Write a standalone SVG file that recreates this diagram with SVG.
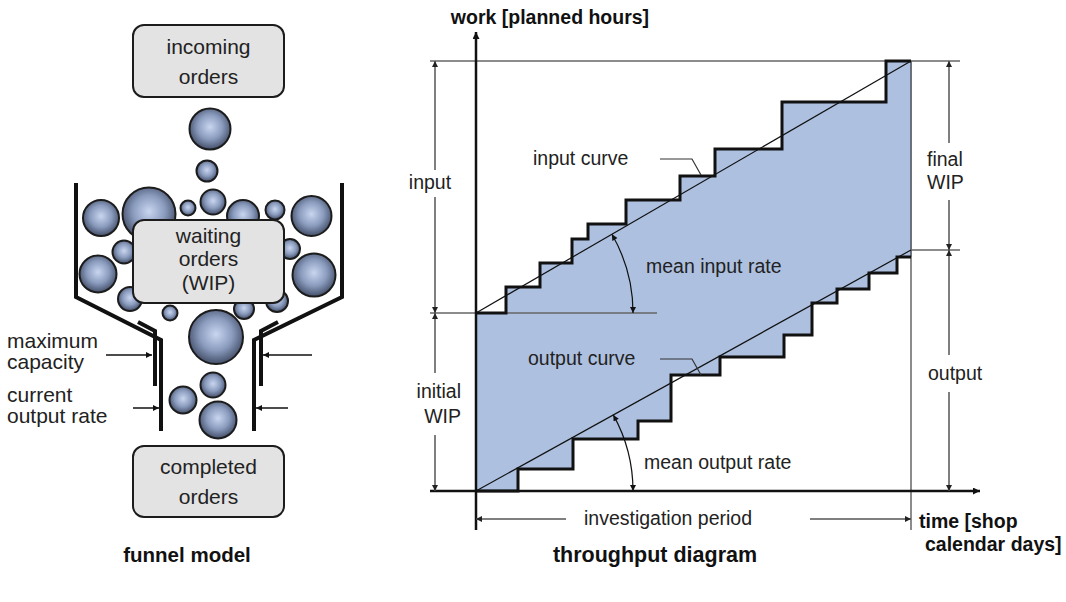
<svg xmlns="http://www.w3.org/2000/svg" width="1066" height="602" viewBox="0 0 1066 602">
  <defs>
    <radialGradient id="ballGrad" cx="50%" cy="45%" r="55%">
      <stop offset="0%" stop-color="#c9d6f0"/>
      <stop offset="55%" stop-color="#8a9bbd"/>
      <stop offset="100%" stop-color="#434f69"/>
    </radialGradient>
    <marker id="arrowBlack" viewBox="0 0 10 10" refX="10" refY="5" markerWidth="11" markerHeight="7" markerUnits="userSpaceOnUse" orient="auto-start-reverse">
      <path d="M0 0 L10 5 L0 10 Z" fill="#111"/>
    </marker>
    <marker id="arrowGray" viewBox="0 0 10 10" refX="10" refY="5" markerWidth="12" markerHeight="6" markerUnits="userSpaceOnUse" orient="auto-start-reverse">
      <path d="M0 0 L10 5 L0 10 Z" fill="#222"/>
    </marker>
    <marker id="arrowSmall" viewBox="0 0 10 10" refX="10" refY="5" markerWidth="9" markerHeight="6" markerUnits="userSpaceOnUse" orient="auto-start-reverse">
      <path d="M0 0 L10 5 L0 10 Z" fill="#111"/>
    </marker>
  </defs>
  <style>
    .ball { fill: url(#ballGrad); stroke: #1c1c1c; stroke-width: 2; }
    .box { fill: #e3e3e3; stroke: #1c1c1c; stroke-width: 2; }
    .wall { fill: none; stroke: #111; stroke-width: 4; stroke-linejoin: miter; }
    .ftxt { font-family: "Liberation Sans", Arial, sans-serif; font-size: 21px; fill: #222; }
    .ctxt { font-family: "Liberation Sans", Arial, sans-serif; font-size: 19.5px; fill: #222; }
    .btxt { font-family: "Liberation Sans", Arial, sans-serif; font-size: 19.5px; font-weight: bold; fill: #111; }
    .title { font-family: "Liberation Sans", Arial, sans-serif; font-size: 20.5px; font-weight: bold; fill: #111; }
    .mid { text-anchor: middle; }
    .end { text-anchor: end; }
    .ref { fill: none; stroke: #666; stroke-width: 1.5; }
    .dimline { fill: none; stroke: #555; stroke-width: 1.5; }
    .stairs { fill: none; stroke: #111; stroke-width: 3; stroke-linejoin: miter; }
    .mean { fill: none; stroke: #111; stroke-width: 1.2; }
    .leader { fill: none; stroke: #333; stroke-width: 1.2; }
    .pointer { fill: none; stroke: #111; stroke-width: 1.5; marker-end: url(#arrowSmall); }
    .axis { fill: none; stroke: #111; stroke-width: 2.5; marker-end: url(#arrowBlack); }
  </style>

  <!-- ===== funnel model ===== -->
  <g id="balls-falling">
    <circle class="ball" cx="210" cy="129" r="20.5"/>
    <circle class="ball" cx="207" cy="171" r="10.5"/>
  </g>
  <g id="balls-waiting">
    <circle class="ball" cx="243" cy="216" r="16"/>
    <circle class="ball" cx="101" cy="218" r="18"/>
    <circle class="ball" cx="149" cy="214" r="26.5"/>
    <circle class="ball" cx="188" cy="208" r="7.5"/>
    <circle class="ball" cx="213" cy="202" r="12.5"/>
    <circle class="ball" cx="275" cy="210" r="9.5"/>
    <circle class="ball" cx="311.5" cy="216" r="20"/>
    <circle class="ball" cx="124" cy="252" r="11.5"/>
    <circle class="ball" cx="98" cy="274" r="18.5"/>
    <circle class="ball" cx="290" cy="249" r="10"/>
    <circle class="ball" cx="314" cy="275" r="21.5"/>
    <circle class="ball" cx="130" cy="299" r="12"/>
    <circle class="ball" cx="170" cy="313" r="7.5"/>
    <circle class="ball" cx="244" cy="309" r="10"/>
    <circle class="ball" cx="277" cy="301" r="11"/>
    <circle class="ball" cx="216" cy="337" r="27"/>
  </g>
  <g id="balls-completed">
    <circle class="ball" cx="213" cy="385" r="12.5"/>
    <circle class="ball" cx="183" cy="400" r="13.5"/>
    <circle class="ball" cx="218" cy="420" r="18.5"/>
  </g>

  <g id="incoming-orders">
    <rect class="box" x="133" y="25" width="151" height="72" rx="11"/>
    <text class="ftxt mid" x="208.5" y="54">incoming</text>
    <text class="ftxt mid" x="208.5" y="84">orders</text>
  </g>
  <g id="waiting-orders">
    <rect class="box" x="133" y="220" width="151" height="83" rx="11"/>
    <text class="ftxt mid" x="208.5" y="243">waiting</text>
    <text class="ftxt mid" x="208.5" y="266">orders</text>
    <text class="ftxt mid" x="208.5" y="290">(WIP)</text>
  </g>
  <g id="completed-orders">
    <rect class="box" x="133" y="446" width="151" height="71" rx="11"/>
    <text class="ftxt mid" x="208.5" y="474">completed</text>
    <text class="ftxt mid" x="208.5" y="504">orders</text>
  </g>

  <g id="funnel-walls">
    <path class="wall" d="M76 183 V297 L161 340 V431"/>
    <path class="wall" d="M342 183 V297 L254 340 V431"/>
    <path class="wall" d="M138 322 L155 331 V386"/>
    <path class="wall" d="M278 322 L261 331 V386"/>
  </g>

  <g id="funnel-labels">
    <text class="ftxt" x="7" y="348">maximum</text>
    <text class="ftxt" x="7" y="369">capacity</text>
    <text class="ftxt" x="7" y="402">current</text>
    <text class="ftxt" x="7" y="423">output rate</text>
    <path class="pointer" d="M106 355 H152"/>
    <path class="pointer" d="M133 408 H159"/>
    <path class="pointer" d="M312 355 H263"/>
    <path class="pointer" d="M288 408 H256"/>
  </g>
  <text class="title mid" x="187" y="562">funnel model</text>

  <!-- ===== throughput diagram ===== -->
  <g id="wip-area">
    <polygon fill="#adc0e0" points="476,313 506,313 506,287 540,287 540,263 572,263 572,239 588,239 588,224 626,224 626,200 680,200 680,176 715,176 715,149 782,149 782,102 886,102 886,61 911,61 911,257 897,257 897,273 869,273 869,289 837,289 837,303 812,303 812,335 784,335 784,357 720,357 720,375 671,375 671,421 638,421 638,439 573,439 573,469 518,469 518,491 476,491"/>
    <line x1="911" y1="61" x2="911" y2="257" stroke="#5a78a8" stroke-width="1.5"/>
  </g>

  <g id="reference-lines">
    <path class="ref" d="M430 61 H960"/>
    <path class="ref" d="M430 313 H657"/>
    <path class="ref" d="M911 250 H960"/>
    <path class="ref" d="M911 61 V530"/>
  </g>

  <g id="connectors">
    <!-- mean rate lines -->
    <path class="mean" d="M476 313 L911 61"/>
    <path class="mean" d="M476 491 L911 250"/>
    <!-- input and output step curves -->
    <path class="stairs" d="M476 313 H506 V287 H540 V263 H572 V239 H588 V224 H626 V200 H680 V176 H715 V149 H782 V102 H886 V61 H911"/>
    <path class="stairs" d="M476 491 H518 V469 H573 V439 H638 V421 H671 V375 H720 V357 H784 V335 H812 V303 H837 V289 H869 V273 H897 V257 H911"/>
    <!-- curve leaders -->
    <path class="leader" d="M660 159 H692 L701 175"/>
    <path class="leader" d="M660 359 H692 L701 375"/>
    <!-- rate angle arcs -->
    <path class="mean" d="M611.9 234.3 A157 157 0 0 1 633 313" marker-start="url(#arrowSmall)" marker-end="url(#arrowSmall)" stroke-width="1.3"/>
    <path class="mean" d="M613.3 414.9 A157 157 0 0 1 633 491" marker-start="url(#arrowSmall)" marker-end="url(#arrowSmall)" stroke-width="1.3"/>
    <!-- axes -->
    <path class="axis" d="M476 530 V32"/>
    <path class="axis" d="M430 491 H980"/>
    <!-- dimension lines -->
    <path class="dimline" d="M435 170 V61" marker-end="url(#arrowGray)"/>
    <path class="dimline" d="M435 197 V313" marker-end="url(#arrowGray)"/>
    <path class="dimline" d="M435 373 V313" marker-end="url(#arrowGray)"/>
    <path class="dimline" d="M435 435 V491" marker-end="url(#arrowGray)"/>
    <path class="dimline" d="M949 143 V61" marker-end="url(#arrowGray)"/>
    <path class="dimline" d="M949 200 V250" marker-end="url(#arrowGray)"/>
    <path class="dimline" d="M949 355 V250" marker-end="url(#arrowGray)"/>
    <path class="dimline" d="M949 392 V491" marker-end="url(#arrowGray)"/>
    <path class="dimline" d="M566 519 H476" marker-end="url(#arrowGray)"/>
    <path class="dimline" d="M810 519 H911" marker-end="url(#arrowGray)"/>
  </g>

  <g id="chart-labels">
    <text class="btxt mid" x="550" y="24">work [planned hours]</text>
    <text class="ctxt" x="533" y="165">input curve</text>
    <text class="ctxt" x="646" y="273">mean input rate</text>
    <text class="ctxt" x="528" y="365">output curve</text>
    <text class="ctxt" x="644" y="469">mean output rate</text>
    <text class="ctxt mid" x="430" y="189">input</text>
    <text class="ctxt end" x="461" y="398">initial</text>
    <text class="ctxt end" x="461" y="423">WIP</text>
    <text class="ctxt" x="927" y="166">final</text>
    <text class="ctxt" x="927" y="189">WIP</text>
    <text class="ctxt" x="928" y="380">output</text>
    <text class="ctxt mid" x="668" y="525">investigation period</text>
    <text class="btxt" x="919" y="528">time [shop</text>
    <text class="btxt" x="925" y="551">calendar days]</text>
  </g>
  <text class="title mid" x="655" y="562" style="font-size:21.5px">throughput diagram</text>
</svg>
